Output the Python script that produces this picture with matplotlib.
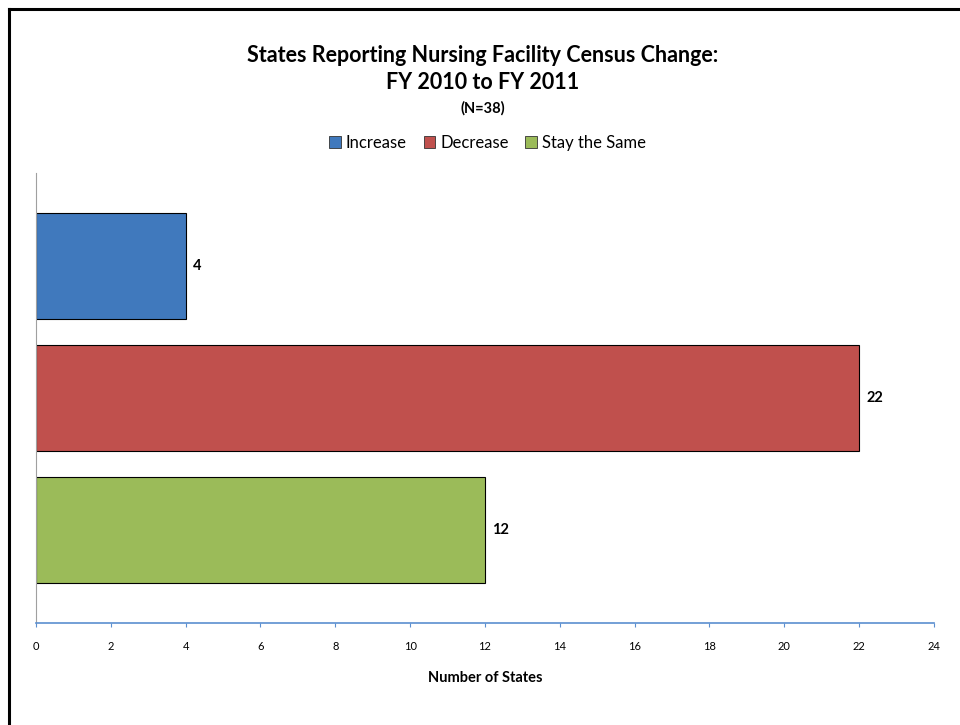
import matplotlib.pyplot as plt
from matplotlib.patches import Patch
from matplotlib.lines import Line2D

plt.rcParams['font.family'] = ['Lato', 'DejaVu Sans']

categories = ['Increase', 'Decrease', 'Stay the Same']
values = [4, 22, 12]
colors = ['#4079BD', '#C0504D', '#9BBB59']
xticks = list(range(0, 25, 2))

fig = plt.figure(figsize=(9.6, 7.25), dpi=100)
ax = fig.add_axes([0.0375, 0.1407, 0.9354, 0.6207])

ypos = list(range(len(categories)))
ax.barh(ypos, values, height=0.8, color=colors, edgecolor='black', linewidth=0.8)
for y, v in zip(ypos, values):
    ax.text(v + 0.2, y, str(v), va='center', ha='left', fontsize=10.5, fontweight='bold')

ax.set_xlim(0, 24)
ax.set_ylim(2.70, -0.70)
ax.set_xticks(xticks)
ax.set_yticks([])
ax.tick_params(axis='x', direction='out', length=3, color='#5B8FD0', labelsize=8, pad=10)
for s in ['top', 'right']:
    ax.spines[s].set_visible(False)
ax.spines['left'].set_color('#A0A0A0')
ax.spines['bottom'].set_color('#5B8FD0')
ax.spines['bottom'].set_linewidth(1.2)
ax.set_xlabel('Number of States', fontsize=10.5, fontweight='bold', labelpad=14)

fig.text(0.503, 0.924, 'States Reporting Nursing Facility Census Change:', ha='center', va='center',
         fontsize=15.5, fontweight='bold')
fig.text(0.503, 0.886, 'FY 2010 to FY 2011', ha='center', va='center', fontsize=15.5, fontweight='bold')
fig.text(0.503, 0.851, '(N=38)', ha='center', va='center', fontsize=10.5, fontweight='bold')

handles = [Patch(facecolor=c, edgecolor='#333333', linewidth=0.6) for c in colors]
fig.legend(handles, categories, loc='center', bbox_to_anchor=(0.508, 0.803), ncol=3,
           frameon=False, fontsize=12, handlelength=0.7, handleheight=0.7,
           handletextpad=0.3, columnspacing=1.0)

# outer frame (cropped at right and bottom)
fig.add_artist(Line2D([0.0095, 1.0], [0.987, 0.987], color='black', linewidth=2.2, transform=fig.transFigure))
fig.add_artist(Line2D([0.0095, 0.0095], [0.987, 0.0], color='black', linewidth=2.2, transform=fig.transFigure))

fig.savefig('out.png', dpi=100)
